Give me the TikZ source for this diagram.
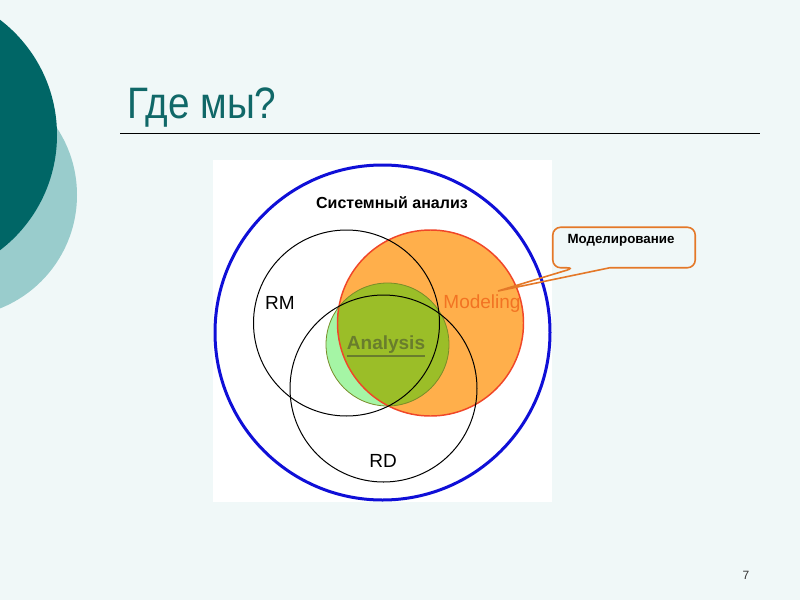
\documentclass[tikz,border=0pt]{standalone}
\usepackage{fontspec}
\setmainfont{Liberation Sans}
\usepackage{tikz}
\usetikzlibrary{positioning}
\usetikzlibrary{calc}
\definecolor{bgcol}{RGB}{240,248,248}
\definecolor{tealdark}{RGB}{0,102,102}
\definecolor{teallight}{RGB}{153,204,204}
\definecolor{titlecol}{RGB}{16,104,104}
\definecolor{ringblue}{RGB}{15,15,215}
\definecolor{orangefill}{RGB}{255,175,75}
\definecolor{orangeline}{RGB}{240,70,40}
\definecolor{greenfill}{RGB}{165,245,165}
\definecolor{olivefill}{RGB}{155,190,40}
\definecolor{oliveline}{RGB}{120,140,40}
\definecolor{calloutcol}{RGB}{228,120,40}
\definecolor{modelcol}{RGB}{242,115,35}
\definecolor{analysiscol}{RGB}{105,125,45}
\tikzset{
  setline/.style={black, line width=0.75pt},
  setlabel/.style={font=\fontsize{14.25pt}{14.25pt}\selectfont, inner sep=0pt},
  calloutline/.style={calloutcol, line width=1.2pt}
}

\begin{document}
\begin{tikzpicture}[x=0.75pt, y=-0.75pt]

% Slide background
\fill[bgcol] (0,0) rectangle (800,600);
\useasboundingbox (0,0) rectangle (800,600);

% Decorative circles
\fill[teallight] (-45,195) circle (122);
\fill[tealdark] (-88,135) circle (145);

% Title and rule
\node[anchor=base west, inner sep=0pt, text=titlecol, xscale=0.88,
      font=\fontsize{33pt}{33pt}\selectfont] (title) at (127,118) {Где мы?};
\draw[black, line width=0.75pt] (120,133) -- (760,133);

% Picture panel
\fill[white] (213,160) rectangle (552,502);

% Modeling and Analysis discs
\fill[greenfill] (387.5,344.5) circle (61.5);
\fill[orangefill] (430.5,323) circle (93);
\begin{scope}
  \clip (430.5,323) circle (93);
  \fill[olivefill] (387.5,344.5) circle (61.5);
\end{scope}
\draw[orangeline, line width=1.1pt] (430.5,323) circle (93);
\draw[oliveline, line width=0.6pt] (387.5,344.5) circle (61.5);

% RM and RD sets
\draw[setline] (346.5,323) circle (93);
\draw[setline] (383.5,388.5) circle (93.5);

% System analysis ring
\draw[ringblue, line width=2.25pt] (382.5,332.5) circle (167.5);

% Labels
\node[font=\bfseries\fontsize{12pt}{12pt}\selectfont] (sysanalysis) at (392,203) {Системный анализ};
\node[setlabel] (rm) at (280,303) {RM};
\node[setlabel] (rd) at (383,461) {RD};
\node[setlabel, text=modelcol] (modeling) at (482,304) {Modeling};
\node[setlabel, text=analysiscol, font=\bfseries\fontsize{14.25pt}{14.25pt}\selectfont] (analysis) at (386,345) {Analysis};
\draw[analysiscol, line width=1.1pt] ($(analysis.south west)+(0,2)$) -- ($(analysis.south east)+(0,2)$);

% Callout
\node[minimum width=106.5pt, minimum height=30pt, inner sep=0pt] (callout) at (624,247.5) {};
\node[font=\bfseries\fontsize{10pt}{10pt}\selectfont, inner sep=0pt] (calloutlabel) at (621,240) {Моделирование};
\coordinate (tip) at (498,291);
\coordinate (pa) at ($(callout.south west)+(22,0)$);
\coordinate (pb) at ($(callout.south west)+(57,0)$);
\draw[calloutline] (pb) [rounded corners=6pt] -- (callout.south east) -- (callout.north east)
  -- (callout.north west) -- (callout.south west) -- (pa) [sharp corners] -- (tip) -- (pb);

% Page number
\node[font=\fontsize{9pt}{9pt}\selectfont, text=black!80] (pagenum) at (746,575) {7};

\end{tikzpicture}
\end{document}
